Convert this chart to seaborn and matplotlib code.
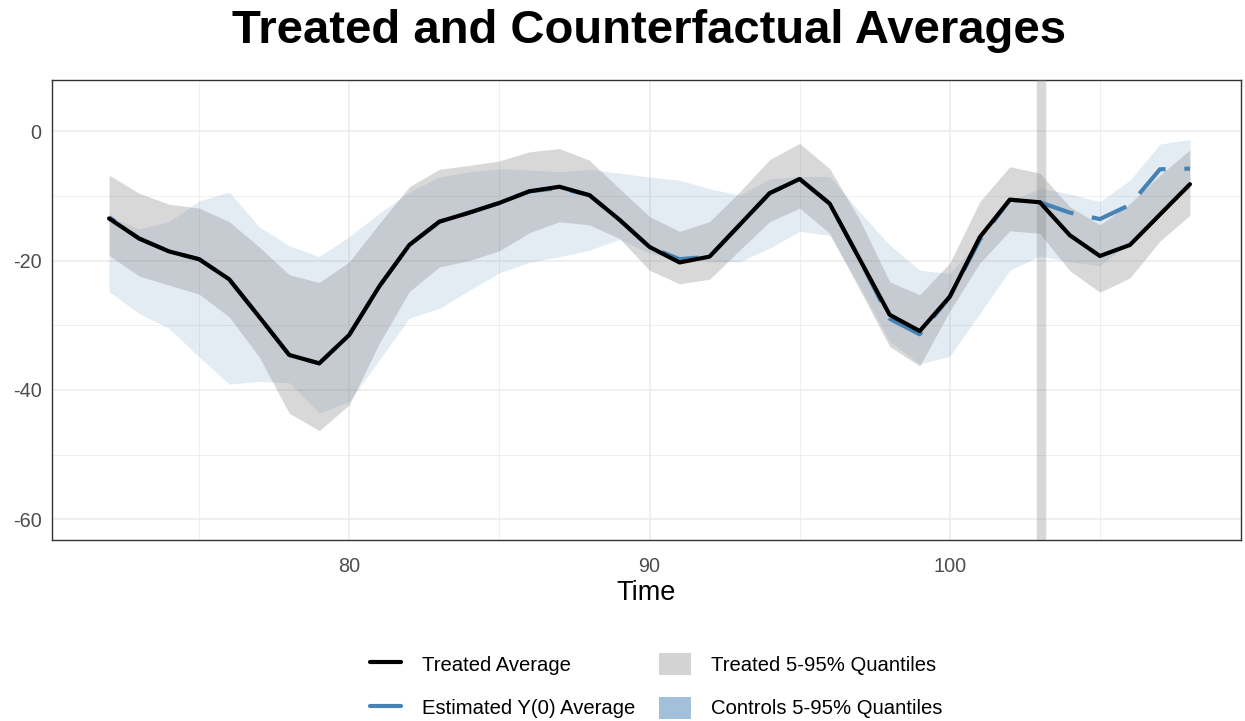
import numpy as np
import pandas as pd
import matplotlib
matplotlib.use("Agg")
import matplotlib.pyplot as plt
from matplotlib.lines import Line2D
from matplotlib.patches import Patch
import seaborn as sns

# Time periods
time = list(range(72, 109))

# Average outcome for treated units
treated_avg = [-13.5, -16.6, -18.6, -19.8, -22.9, -28.7, -34.6, -35.9, -31.5, -24.0,
               -17.6, -14.0, -12.6, -11.1, -9.3, -8.6, -9.9, -13.7, -17.9, -20.3,
               -19.4, -14.5, -9.6, -7.4, -11.2, -19.8, -28.4, -30.9, -25.6, -16.4,
               -10.6, -11.0, -16.1, -19.3, -17.6, -12.9, -8.2]

# Estimated counterfactual Y(0) average
y0_avg = [-13.3, -16.6, -18.6, -19.8, -22.9, -28.7, -34.6, -35.9, -31.5, -24.0,
          -17.6, -14.0, -12.6, -11.1, -9.3, -8.8, -9.9, -13.7, -17.9, -19.8,
          -19.4, -14.5, -9.6, -7.4, -11.2, -19.8, -29.0, -31.4, -25.6, -16.8,
          -10.6, -11.0, -12.6, -13.6, -11.4, -5.9, -5.8]

# Treated units, 5% and 95% quantiles
treated_lo = [-19.2, -22.4, -23.8, -25.2, -28.7, -34.9, -43.6, -46.3, -42.3, -32.8,
              -24.8, -21.0, -20.0, -18.5, -15.7, -14.0, -14.5, -16.6, -21.5, -23.6,
              -22.9, -18.4, -14.0, -11.9, -15.8, -24.5, -33.3, -36.3, -27.8, -20.4,
              -15.4, -15.8, -21.6, -24.9, -22.7, -17.0, -13.0]
treated_hi = [-6.8, -9.6, -11.3, -11.9, -14.0, -17.9, -22.2, -23.4, -20.2, -14.3,
              -8.6, -5.9, -5.3, -4.6, -3.2, -2.7, -4.5, -8.9, -13.2, -15.5,
              -14.0, -9.4, -4.4, -1.9, -5.8, -13.7, -23.3, -25.3, -20.4, -10.9,
              -5.5, -6.5, -11.7, -14.5, -11.2, -6.8, -2.9]

# Control units, 5% and 95% quantiles
control_lo = [-24.8, -28.2, -30.5, -34.9, -39.1, -38.7, -38.9, -43.6, -41.8, -35.4,
              -28.9, -27.4, -24.6, -21.9, -20.3, -19.4, -18.4, -16.7, -18.9, -19.9,
              -20.2, -20.2, -18.1, -15.5, -16.1, -24.0, -32.5, -36.0, -34.8, -28.2,
              -21.5, -19.3, -20.2, -20.8, -17.3, -12.7, -8.8]
control_hi = [-13.2, -15.1, -14.0, -10.8, -9.4, -14.8, -17.7, -19.4, -16.3, -12.7,
              -9.4, -7.1, -6.3, -5.8, -6.0, -6.3, -5.9, -6.5, -7.1, -7.6,
              -8.9, -9.9, -7.4, -7.0, -7.0, -12.5, -17.6, -21.5, -22.0, -16.8,
              -10.9, -8.8, -9.7, -10.9, -7.6, -2.0, -1.3]

treatment_time = 103.03

df = pd.DataFrame({
    "Time": time,
    "treated": treated_avg,
    "y0": y0_avg,
    "t_lo": treated_lo, "t_hi": treated_hi,
    "c_lo": control_lo, "c_hi": control_hi,
})

sns.set_theme(style="whitegrid")
plt.rcParams["font.family"] = ["Liberation Sans", "DejaVu Sans"]
plt.rcParams["axes.unicode_minus"] = False

DPI = 100
steel = "#4682B4"
lw = 3.0
fig = plt.figure(figsize=(12.45, 7.21), dpi=DPI)
ax = fig.add_axes([52 / 1245, 1 - 540 / 721, (1241 - 52) / 1245, (540 - 80) / 721])
ax.set_facecolor("white")
ax.set_xlim(70.1, 109.7)
ax.set_ylim(-63.2, 7.9)

# Quantile bands
ax.fill_between(df["Time"], df["c_lo"], df["c_hi"], color=steel, alpha=0.15,
                linewidth=0, zorder=2)
ax.fill_between(df["Time"], df["t_lo"], df["t_hi"], color="#808080", alpha=0.3,
                linewidth=0, zorder=3)

# Treatment start
ax.axvline(treatment_time, color="#808080", alpha=0.3, linewidth=6.8, zorder=4)

# Averages
sns.lineplot(data=df, x="Time", y="y0", ax=ax, color=steel, linewidth=lw,
             zorder=5)
y0_line = ax.lines[-1]
sns.lineplot(data=df, x="Time", y="treated", ax=ax, color="black", linewidth=lw,
             zorder=6)

# Dash phase: let a dash begin where treatment starts
on, off = 9.0, 4.5
pts = ax.transData.transform(np.column_stack([df["Time"], df["y0"]]))
seg = np.hypot(np.diff(pts[:, 0]), np.diff(pts[:, 1]))
k = int(np.searchsorted(df["Time"].to_numpy(), 103))
path_pt = seg[:k].sum() * 72.0 / DPI - 1.5
offset = (-path_pt / lw) % (on + off)
y0_line.set_linestyle((offset, (on, off)))

ax.set_xticks([80, 90, 100])
ax.set_xticks([75, 85, 95, 105], minor=True)
ax.set_yticks([0, -20, -40, -60])
ax.set_yticks([-10, -30, -50], minor=True)
ax.grid(which="major", color="#EBEBEB", linewidth=1.1)
ax.grid(which="minor", color="#EBEBEB", linewidth=0.55)
ax.set_axisbelow(True)

for s in ax.spines.values():
    s.set_visible(True)
    s.set_color("#333333")
    s.set_linewidth(1.0)

ax.tick_params(axis="x", which="major", pad=8)
ax.tick_params(axis="both", which="major", length=4, width=1.0, color="#333333",
               labelsize=14.3, labelcolor="#4D4D4D")
ax.tick_params(axis="both", which="minor", length=0)
ax.set_xlabel("Time", fontsize=19.5, color="black", labelpad=3)
ax.set_ylabel("")

fig.suptitle("Treated and Counterfactual Averages", x=649 / 1245, y=1 - 31 / 721,
             va="center", fontsize=34, fontweight="bold", color="black")

handles = [
    Line2D([], [], color="black", linewidth=lw),
    Line2D([], [], color=steel, linewidth=lw),
    Patch(facecolor="#D3D3D3", edgecolor="none"),
    Patch(facecolor="#A2C0D9", edgecolor="none"),
]
labels = ["Treated Average", "Estimated Y(0) Average",
          "Treated 5-95% Quantiles", "Controls 5-95% Quantiles"]
leg = fig.legend(handles, labels, loc="center", ncol=2, frameon=False,
                 bbox_to_anchor=(656 / 1245, 1 - 686 / 721), fontsize=14.6,
                 handlelength=1.55, handleheight=1.3, handletextpad=1.0,
                 columnspacing=1.2, labelspacing=1.05)
for t in leg.get_texts():
    t.set_color("black")

fig.savefig("out.png", dpi=DPI)
